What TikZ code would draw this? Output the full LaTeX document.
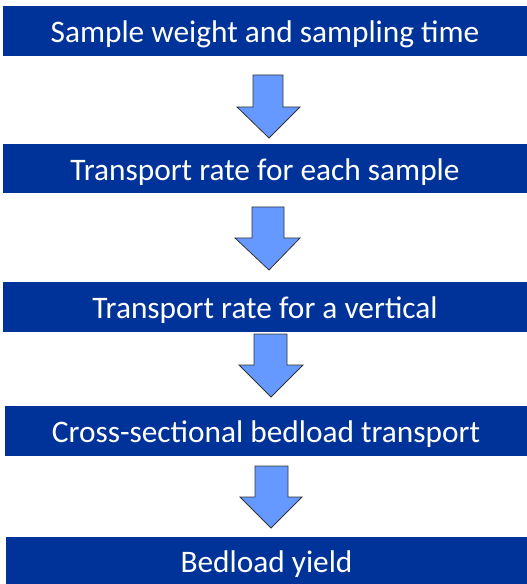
\documentclass[tikz,border=0pt]{standalone}
\usepackage{fontspec}
\setmainfont{Carlito}
\definecolor{boxblue}{HTML}{003399}
\definecolor{arrowblue}{HTML}{6699FF}
\tikzset{
  stepbox/.style={fill=boxblue, text=white, inner sep=0pt, font=\fontsize{23.5}{28}\selectfont, text height=20pt, text depth=2.5pt},
  downarrow/.style={fill=arrowblue, draw=black!80, line width=0.6pt, line join=miter},
}
\begin{document}
\begin{tikzpicture}[x=0.75pt,y=0.75pt,yscale=-1,xscale=1]
\useasboundingbox (0,0) rectangle (527,584);

%Boxes
\node[stepbox, minimum width=393pt, minimum height=37.5pt] (weight) at (265,31) {Sample weight and sampling time};
\node[stepbox, minimum width=393pt, minimum height=36.75pt] (sample) at (265,168.5) {Transport rate for each sample};
\node[stepbox, minimum width=393pt, minimum height=37.5pt] (vertical) at (265,307) {Transport rate for a vertical};
\node[stepbox, minimum width=391.5pt, minimum height=37.5pt] (section) at (266,431) {Cross-sectional bedload transport};
\node[stepbox, minimum width=390.75pt, minimum height=35.25pt] (yield) at (266.5,560.5) {Bedload yield};

%Down Arrows
\draw[downarrow] (253,75) -- (283,75) -- (283,107) -- (300,107) -- (269,138) -- (237,107) -- (253,107) -- cycle ;
\draw[downarrow] (252,207) -- (284,207) -- (284,238) -- (300,238) -- (269,270) -- (235,238) -- (252,238) -- cycle ;
\draw[downarrow] (254,334) -- (287,334) -- (287,365) -- (303,365) -- (271,397) -- (239,365) -- (254,365) -- cycle ;
\draw[downarrow] (255,466) -- (288,466) -- (288,497) -- (302,497) -- (271,528) -- (240,497) -- (255,497) -- cycle ;

\end{tikzpicture}
\end{document}
